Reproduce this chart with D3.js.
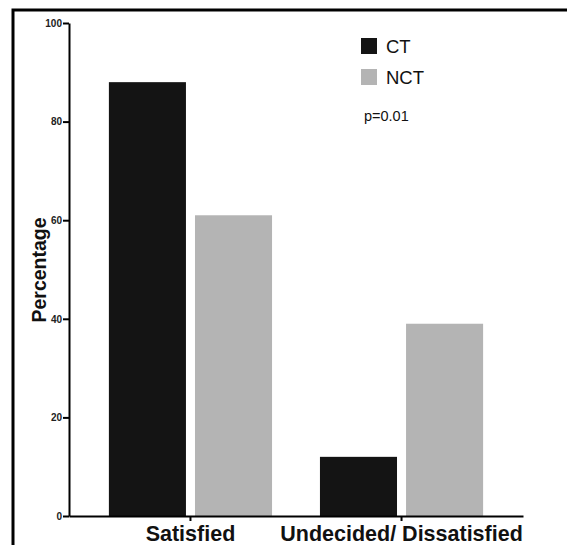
<!DOCTYPE html>
<html>
<head>
<meta charset="utf-8">
<script src="https://cdn.jsdelivr.net/npm/d3@7"></script>
<style>
  body { margin: 0; background: #fff; }
  svg { display: block; font-family: "Liberation Sans", Arial, sans-serif; }
</style>
</head>
<body>
<div id="chart"></div>
<script>
// data
const categories = ["Satisfied", "Undecided/ Dissatisfied"];
const groups = ["CT", "NCT"];
const ctValues = [88, 12];
const nctValues = [61, 39];
const yTicks = [0, 20, 40, 60, 80, 100];
const pText = "p=0.01";

const colors = { CT: "#141414", NCT: "#b4b4b4" };

const width = 567, height = 545;
const plotLeft = 69, plotRight = 523, plotTop = 23, plotBottom = 516;

const svg = d3.select("#chart").append("svg")
  .attr("width", width)
  .attr("height", height);

// frame (only top and left edges visible)
svg.append("rect")
  .attr("x", 13).attr("y", 10)
  .attr("width", 700).attr("height", 700)
  .attr("fill", "none")
  .attr("stroke", "#000")
  .attr("stroke-width", 3);

const y = d3.scaleLinear().domain([0, 100]).range([plotBottom, plotTop]);

const x0 = d3.scaleBand()
  .domain(categories)
  .range([plotLeft, plotRight])
  .paddingInner(0.227)
  .paddingOuter(0.189);

const x1 = d3.scaleBand()
  .domain(groups)
  .range([0, x0.bandwidth()])
  .paddingInner(0.105);

const rows = categories.map((c, i) => ({ cat: c, CT: ctValues[i], NCT: nctValues[i] }));

// bars
svg.append("g").selectAll("g")
  .data(rows)
  .join("g")
  .attr("transform", d => `translate(${x0(d.cat)},0)`)
  .selectAll("rect")
  .data(d => groups.map(g => ({ g, v: d[g] })))
  .join("rect")
  .attr("x", d => x1(d.g))
  .attr("y", d => y(d.v))
  .attr("width", x1.bandwidth())
  .attr("height", d => y(0) - y(d.v))
  .attr("fill", d => colors[d.g]);

// y axis
const yAxis = svg.append("g")
  .attr("transform", `translate(${plotLeft},0)`)
  .call(d3.axisLeft(y).tickValues(yTicks).tickSize(6).tickPadding(1).tickSizeOuter(0));
yAxis.select(".domain").attr("stroke-width", 2);
yAxis.selectAll(".tick line").attr("stroke-width", 2);
yAxis.selectAll("text")
  .attr("font-size", 10)
  .attr("font-weight", "bold")
  .attr("fill", "#222");

// x axis
const xAxis = svg.append("g")
  .attr("transform", `translate(0,${plotBottom})`)
  .call(d3.axisBottom(x0).tickSize(5).tickSizeOuter(0).tickPadding(5));
xAxis.select(".domain").attr("stroke-width", 2);
xAxis.selectAll(".tick line").attr("stroke-width", 2);
xAxis.selectAll("text")
  .attr("font-size", 21.5)
  .attr("font-weight", "bold")
  .attr("fill", "#111");

// y label
svg.append("text")
  .attr("transform", `translate(46,270) rotate(-90)`)
  .attr("text-anchor", "middle")
  .attr("font-size", 19.5)
  .attr("font-weight", "bold")
  .attr("fill", "#111")
  .text("Percentage");

// legend
const legend = svg.append("g");
groups.forEach((g, i) => {
  legend.append("rect")
    .attr("x", 361).attr("y", 38 + i * 31)
    .attr("width", 16).attr("height", 16)
    .attr("fill", colors[g]);
  legend.append("text")
    .attr("x", 386).attr("y", 53 + i * 31)
    .attr("font-size", 18.5)
    .attr("fill", "#111")
    .text(g);
});
svg.append("text")
  .attr("x", 364).attr("y", 121)
  .attr("font-size", 14.5)
  .attr("fill", "#111")
  .text(pText);
</script>
</body>
</html>
